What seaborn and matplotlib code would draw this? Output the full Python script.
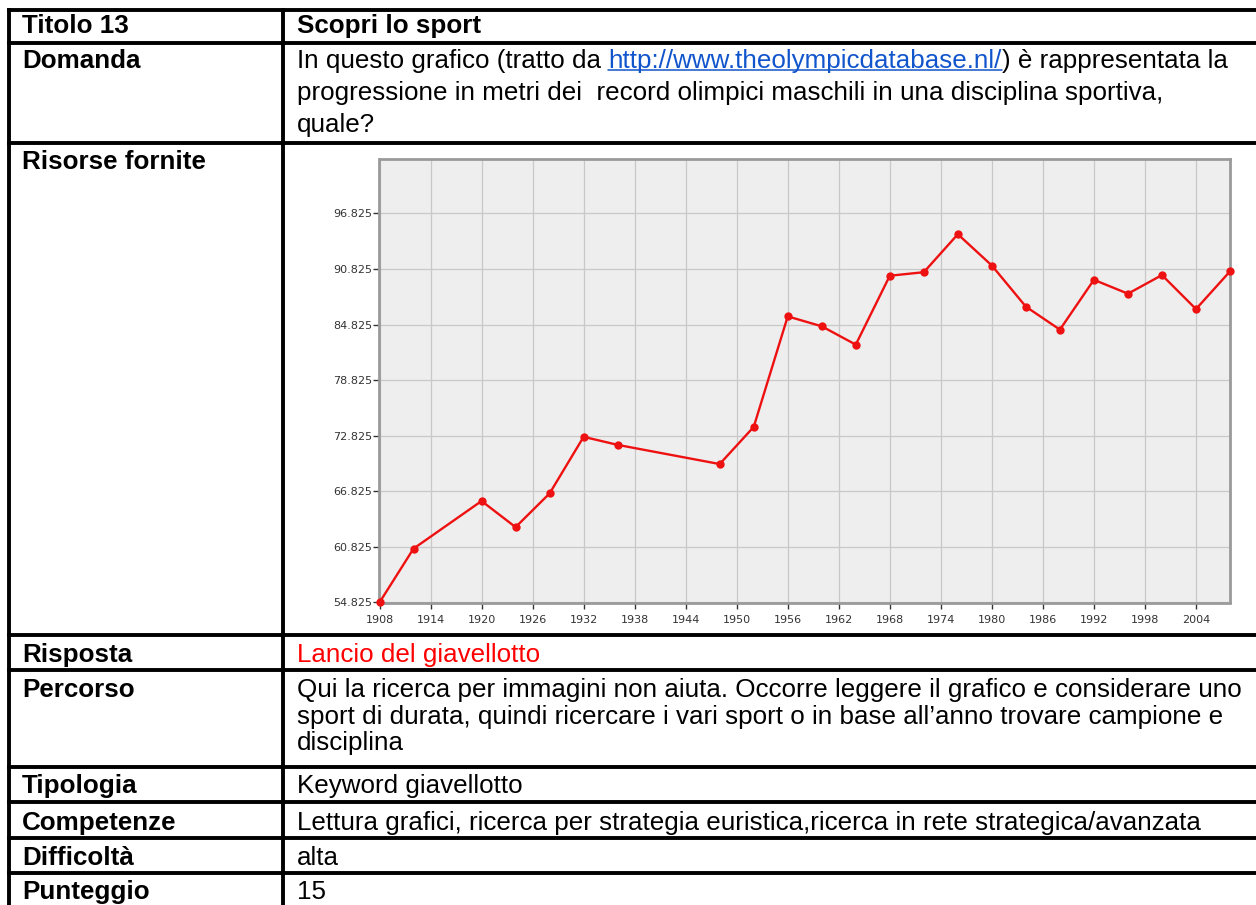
import matplotlib
matplotlib.use("Agg")
import matplotlib.pyplot as plt
import pandas as pd
import seaborn as sns

# ─── Data ─────────────────────────────────────────────────────────────────────
years = [1908, 1912, 1920, 1924, 1928, 1932, 1936, 1948, 1952, 1956, 1960, 1964,
         1968, 1972, 1976, 1980, 1984, 1988, 1992, 1996, 2000, 2004, 2008]
meters = [54.83, 60.64, 65.78, 62.96, 66.60, 72.71, 71.84, 69.77, 73.78, 85.71,
          84.64, 82.66, 90.10, 90.48, 94.58, 91.20, 86.76, 84.28, 89.66, 88.16,
          90.17, 86.50, 90.57]

x_ticks = [1908, 1914, 1920, 1926, 1932, 1938, 1944, 1950, 1956, 1962, 1968,
           1974, 1980, 1986, 1992, 1998, 2004]
y_ticks = [54.825, 60.825, 66.825, 72.825, 78.825, 84.825, 90.825, 96.825]

row_labels = ["Titolo 13", "Domanda", "Risorse fornite", "Risposta", "Percorso",
              "Tipologia", "Competenze", "Difficoltà", "Punteggio"]
link = "http://www.theolympicdatabase.nl/"
domanda = ["In questo grafico (tratto da", link, ") è rappresentata la",
           "progressione in metri dei  record olimpici maschili in una disciplina sportiva,",
           "quale?"]
percorso = ["Qui la ricerca per immagini non aiuta. Occorre leggere il grafico e considerare uno",
            "sport di durata, quindi ricercare i vari sport o in base all\u2019anno trovare campione e",
            "disciplina"]
risposta = "Lancio del giavellotto"
tipologia = "Keyword giavellotto"
competenze = "Lettura grafici, ricerca per strategia euristica,ricerca in rete strategica/avanzata"
difficolta = "alta"
punteggio = "15"

# ─── Layout (pixels) ──────────────────────────────────────────────────────────
W, H = 1256, 905
FS = 18.7
RED = "#ee1111"
LINK = "#1155cc"
row_lines = [10, 43, 143, 635, 670, 767, 802, 838, 873]
label_base = [33, 68, 169, 662, 697, 793, 830, 865, 899]
XL, XR = 22, 297

sns.set_style("white")
plt.rcParams["font.family"] = ["Liberation Sans", "DejaVu Sans"]
plt.rcParams["text.color"] = "black"

fig = plt.figure(figsize=(W / 100, H / 100), dpi=100)
tab = fig.add_axes([0, 0, 1, 1])
tab.set_xlim(0, W)
tab.set_ylim(H, 0)
tab.axis("off")

# table grid
for y in row_lines:
    tab.plot([7, W], [y, y], color="black", lw=2.8, solid_capstyle="butt")
for x in [9, 283]:
    tab.plot([x, x], [8, H], color="black", lw=2.8, solid_capstyle="butt")

# left column labels
for lab, yb in zip(row_labels, label_base):
    tab.text(XL, yb, lab, fontsize=FS, fontweight="bold", va="baseline")

# right column
tab.text(XR, 33, "Scopri lo sport", fontsize=FS, fontweight="bold", va="baseline")

fig.canvas.draw()
rend = fig.canvas.get_renderer()
inv = tab.transData.inverted()


def text_width(s):
    t = tab.text(0, 0, s, fontsize=FS)
    w = t.get_window_extent(rend).width
    t.remove()
    return w


space = text_width("a a") - text_width("aa")
x = XR
for i, (s, col) in enumerate([(domanda[0], "black"), (domanda[1], LINK), (domanda[2], "black")]):
    t = tab.text(x, 68, s, fontsize=FS, color=col, va="baseline")
    bb = t.get_window_extent(rend)
    x1 = inv.transform((bb.x1, bb.y0))[0]
    if col == LINK:
        tab.plot([x, x1], [70.5, 70.5], color=LINK, lw=1.1)
    x = x1 + (space if i == 0 else 0)
tab.text(XR, 100, domanda[3], fontsize=FS, va="baseline")
tab.text(XR, 132, domanda[4], fontsize=FS, va="baseline")

tab.text(XR, 662, risposta, fontsize=FS, color="#ff0000", va="baseline")
for line, yb in zip(percorso, [697, 723.5, 750]):
    tab.text(XR, yb, line, fontsize=FS, va="baseline")
tab.text(XR, 793, tipologia, fontsize=FS, va="baseline")
tab.text(XR, 830, competenze, fontsize=FS, va="baseline")
tab.text(XR, 865, difficolta, fontsize=FS, va="baseline")
tab.text(XR, 899, punteggio, fontsize=FS, va="baseline")

# ─── Embedded chart ───────────────────────────────────────────────────────────
x0, y0, x1, y1 = 379.5, 159, 1230, 602.5
chart = fig.add_axes([x0 / W, 1 - y1 / H, (x1 - x0) / W, (y1 - y0) / H])
df = pd.DataFrame({"anno": years, "metri": meters})
sns.lineplot(data=df, x="anno", y="metri", ax=chart, color=RED, lw=1.7,
             marker="o", markersize=6, markeredgewidth=0, clip_on=False, zorder=4)
chart.set_facecolor("#eeeeee")
chart.set_xlim(1908, 2008)
chart.set_ylim(54.825, 102.7)
chart.set_xticks(x_ticks)
chart.set_xticklabels([str(v) for v in x_ticks])
chart.set_yticks(y_ticks)
chart.set_yticklabels([f"{v:.3f}" for v in y_ticks])
chart.grid(True, color="#c8c8c8", lw=0.9)
chart.set_axisbelow(True)
for sp in chart.spines.values():
    sp.set_color("#9a9a9a")
    sp.set_linewidth(2)
chart.tick_params(length=4.5, width=1, color="#333333", labelsize=8,
                  labelcolor="#333333", left=True, bottom=True)
chart.tick_params(axis="x", pad=4.5)
chart.tick_params(axis="y", pad=0.5)
for lbl in chart.get_xticklabels() + chart.get_yticklabels():
    lbl.set_family("DejaVu Sans")
chart.set_xlabel("")
chart.set_ylabel("")

fig.savefig("out.png", dpi=100)
